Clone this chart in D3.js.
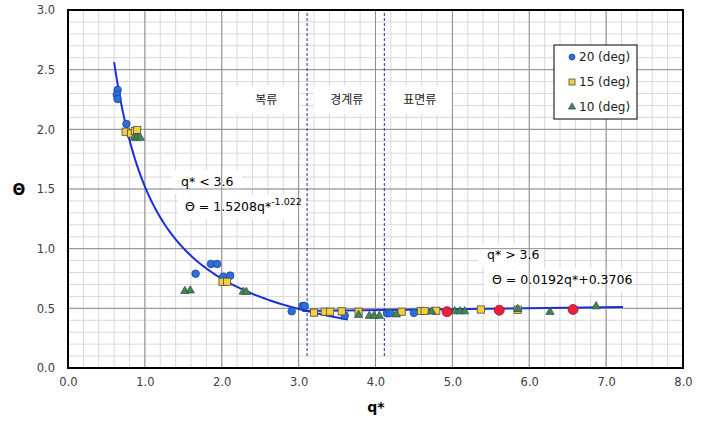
<!DOCTYPE html>
<html><head><meta charset="utf-8">
<script src="https://cdn.jsdelivr.net/npm/d3@7"></script>
<style>body{margin:0;background:#fff}svg{display:block}</style>
</head><body>
<svg id="chart" width="703" height="422"></svg>
<script>
// ---- data ----
const xTicks = [0,1,2,3,4,5,6,7,8];
const yTicks = [0,0.5,1.0,1.5,2.0,2.5,3.0];
const seriesNames = ["20 (deg)","15 (deg)","10 (deg)"];
const deg20 = [[0.645,2.33],[0.635,2.29],[0.645,2.255],[0.76,2.045],[1.66,0.79],[1.86,0.872],[1.94,0.872],[2.02,0.765],[2.11,0.774],[2.91,0.475],[3.05,0.52],[3.08,0.52],[3.6,0.44],[4.15,0.458],[4.19,0.46],[4.5,0.462]];
const deg15 = [[0.75,1.98],[0.82,1.965],[0.87,1.985],[0.9,1.995],[2.01,0.723],[2.07,0.723],[3.2,0.464],[3.34,0.472],[3.41,0.472],[3.56,0.475],[3.78,0.472],[4.34,0.472],[4.59,0.478],[4.64,0.478],[4.79,0.48],[5.37,0.49],[5.85,0.488]];
const deg10 = [[0.86,1.925],[0.9,1.925],[0.94,1.925],[1.52,0.64],[1.59,0.645],[2.28,0.635],[2.32,0.632],[3.78,0.44],[3.92,0.432],[3.98,0.432],[4.05,0.432],[4.27,0.444],[4.73,0.468],[5.03,0.47],[5.1,0.47],[5.16,0.47],[5.85,0.49],[6.27,0.465],[6.87,0.512]];
const highlight = [[4.93,0.472],[5.61,0.484],[6.57,0.49]];
const powerCoef = 1.5208, powerExp = -1.022, powerRange = [0.6,3.65];
const linearLine = [[3.05,0.477],[7.22,0.511]];
const boundaries = [3.11,4.115];
const boundaryRange = [0.1,3.0];
const regimeLabels = [["복류",2.5],["경계류",3.6],["표면류",4.55]];

// ---- setup ----
const svg = d3.select("#chart");
const x = d3.scaleLinear().domain([0,8]).range([68,683]);
const y = d3.scaleLinear().domain([0,3]).range([368,10]);
const g = svg.append("g");

// minor grid
const minorX = d3.range(0,8.0001,0.2), minorY = d3.range(0,3.0001,0.1);
g.selectAll(".mx").data(minorX).enter().append("line")
  .attr("x1",d=>x(d)).attr("x2",d=>x(d)).attr("y1",y(0)).attr("y2",y(3))
  .attr("stroke","#d9d9d9").attr("stroke-width",1);
g.selectAll(".my").data(minorY).enter().append("line")
  .attr("y1",d=>y(d)).attr("y2",d=>y(d)).attr("x1",x(0)).attr("x2",x(8))
  .attr("stroke","#d9d9d9").attr("stroke-width",1);

const boxes = g.append("g");
function box(x0,y0,w,h){boxes.append("rect").attr("x",x0).attr("y",y0).attr("width",w).attr("height",h).attr("fill","#fff");}

// major grid
g.selectAll(".Mx").data(xTicks).enter().append("line")
  .attr("x1",d=>x(d)).attr("x2",d=>x(d)).attr("y1",y(0)).attr("y2",y(3))
  .attr("stroke","#8c8c8c").attr("stroke-width",1);
g.selectAll(".My").data(yTicks).enter().append("line")
  .attr("y1",d=>y(d)).attr("y2",d=>y(d)).attr("x1",x(0)).attr("x2",x(8))
  .attr("stroke","#8c8c8c").attr("stroke-width",1);

regimeLabels.forEach(([t,q])=>{
  const w = t.length===2?76:66;
  box(x(q)-w/2+2, 86, w, 28);
});
box(172,170,70,24); box(178,195,128,24);
box(478,243,66,24); box(484,268,140,24);

// boundaries
g.selectAll(".bd").data(boundaries).enter().append("line")
  .attr("x1",d=>x(d)).attr("x2",d=>x(d)).attr("y1",y(boundaryRange[0])).attr("y2",y(boundaryRange[1]))
  .attr("stroke","#2a2aa0").attr("stroke-width",1).attr("stroke-dasharray","3,2");

// frame
g.append("rect").attr("x",x(0)).attr("y",y(3)).attr("width",x(8)-x(0)).attr("height",y(0)-y(3))
  .attr("fill","none").attr("stroke","#000").attr("stroke-width",2);

// axes
const xAxis = d3.axisBottom(x).tickValues(xTicks).tickFormat(d3.format(".1f")).tickSize(0).tickPadding(10);
const yAxis = d3.axisLeft(y).tickValues(yTicks).tickFormat(d3.format(".1f")).tickSize(0).tickPadding(13);
const ax = svg.append("g").attr("transform",`translate(0,${y(0)})`).call(xAxis);
const ay = svg.append("g").attr("transform",`translate(${x(0)},0)`).call(yAxis);
[ax,ay].forEach(a=>{a.select(".domain").remove();a.selectAll("text").attr("font-family","'DejaVu Sans',sans-serif").attr("font-size",11.5).attr("fill","#404040");});

svg.append("text").attr("x",19).attr("y",190).attr("text-anchor","middle").attr("dominant-baseline","middle")
  .attr("font-family","'DejaVu Sans',sans-serif").attr("font-weight","bold").attr("font-size",15).text("Θ");
svg.append("text").attr("x",376).attr("y",408).attr("text-anchor","middle").attr("dominant-baseline","middle")
  .attr("font-family","'DejaVu Sans',sans-serif").attr("font-weight","bold").attr("font-size",14).text("q*");

// curves
const line = d3.line().x(d=>x(d[0])).y(d=>y(d[1]));
const qs = d3.range(powerRange[0],powerRange[1]+0.0001,0.02);
g.append("path").datum(qs.map(q=>[q,powerCoef*Math.pow(q,powerExp)]))
  .attr("d",line).attr("fill","none").attr("stroke","#1c2fd6").attr("stroke-width",2);
g.append("path").datum(linearLine).attr("d",line).attr("fill","none").attr("stroke","#1c2fd6").attr("stroke-width",2);

// markers
const pts = g.append("g");
pts.selectAll(".c20").data(deg20).enter().append("circle")
  .attr("cx",d=>x(d[0])).attr("cy",d=>y(d[1])).attr("r",3.8)
  .attr("fill","#2f6fdc").attr("stroke","#1b3f9a").attr("stroke-width",0.8);
pts.selectAll(".s15").data(deg15).enter().append("rect")
  .attr("x",d=>x(d[0])-3.6).attr("y",d=>y(d[1])-3.6).attr("width",7.2).attr("height",7.2)
  .attr("fill","#f4d03a").attr("stroke","#4a4a4a").attr("stroke-width",0.8);
const tri = d3.symbol().type(d3.symbolTriangle).size(30);
pts.selectAll(".t10").data(deg10).enter().append("path")
  .attr("d",tri).attr("transform",d=>`translate(${x(d[0])},${y(d[1])-0.5})`)
  .attr("fill","#3f8a44").attr("stroke","#3c4f60").attr("stroke-width",0.8);
pts.selectAll(".hl").data(highlight).enter().append("circle")
  .attr("cx",d=>x(d[0])).attr("cy",d=>y(d[1])).attr("r",5)
  .attr("fill","#e8203c").attr("stroke","#a01030").attr("stroke-width",0.8);

// regime text
const kr = "'Noto Sans CJK KR',sans-serif";
regimeLabels.forEach(([t,q])=>{
  svg.append("text").attr("x",x(q)+2+(t.length===2?4:0)).attr("y",101).attr("text-anchor","middle").attr("dominant-baseline","middle")
    .attr("font-family",kr).attr("font-size",12).attr("fill","#222").text(t);
});

// equations
const ef = "'DejaVu Sans',sans-serif";
svg.append("text").attr("x",181).attr("y",182).attr("dominant-baseline","middle").attr("font-family",ef).attr("font-size",12.5).attr("fill","#000").text("q* < 3.6");
const e1 = svg.append("text").attr("x",185).attr("y",207).attr("dominant-baseline","middle").attr("font-family",ef).attr("font-size",12.5).attr("fill","#000");
e1.append("tspan").text("Θ = 1.5208q*");
e1.append("tspan").attr("dy",-5).attr("font-size",9.5).text("-1.022");
svg.append("text").attr("x",487).attr("y",255).attr("dominant-baseline","middle").attr("font-family",ef).attr("font-size",12.5).attr("fill","#000").text("q* > 3.6");
svg.append("text").attr("x",492).attr("y",280).attr("dominant-baseline","middle").attr("font-family",ef).attr("font-size",12.5).attr("fill","#000").text("Θ = 0.0192q*+0.3706");

// legend
const lg = svg.append("g");
lg.append("rect").attr("x",554).attr("y",45).attr("width",83).attr("height",74).attr("fill","#fff").attr("stroke","#000").attr("stroke-width",1);
const rows = [57,82,107];
seriesNames.forEach((n,i)=>{
  const cy = rows[i];
  if(i===0) lg.append("circle").attr("cx",572).attr("cy",cy).attr("r",3).attr("fill","#2f6fdc").attr("stroke","#1b3f9a").attr("stroke-width",0.8);
  if(i===1) lg.append("rect").attr("x",569).attr("y",cy-3).attr("width",6).attr("height",6).attr("fill","#f4d03a").attr("stroke","#4a4a4a").attr("stroke-width",0.8);
  if(i===2) lg.append("path").attr("d",d3.symbol().type(d3.symbolTriangle).size(22)).attr("transform",`translate(572,${cy})`).attr("fill","#3f8a44").attr("stroke","#3c4f60").attr("stroke-width",0.8);
  lg.append("text").attr("x",579).attr("y",cy).attr("dominant-baseline","middle").attr("font-family",ef).attr("font-size",12).attr("fill","#222").text(n);
});
</script>
</body></html>
